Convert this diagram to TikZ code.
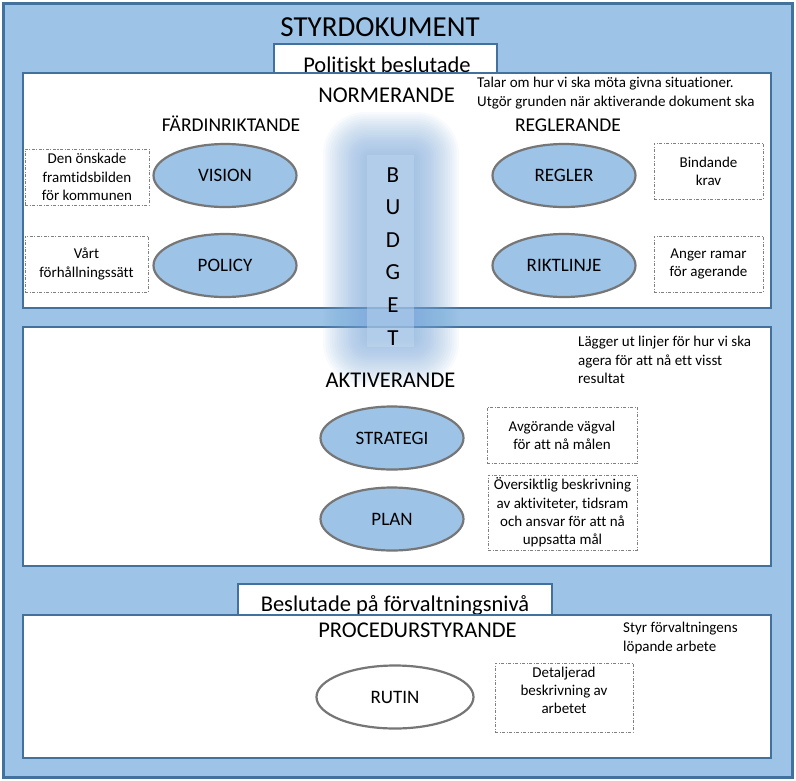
\documentclass[tikz,border=0pt]{standalone}
\usepackage{fontspec}
\setmainfont{Carlito}[Ligatures=NoCommon, Contextuals=NoAlternate]
\usetikzlibrary{shapes.geometric}
\definecolor{frameblue}{RGB}{157,195,230}
\definecolor{lineblue}{RGB}{65,113,156}
\definecolor{ellgray}{RGB}{118,118,118}
\definecolor{notegray}{RGB}{128,128,128}
\definecolor{glowblue}{RGB}{125,172,222}
\begin{document}
\begin{tikzpicture}[x=1pt,y=-1pt,
						every node/.style = {inner sep=0pt},
						section/.style = {draw=lineblue, line width=2pt, fill=white},
						heading/.style = {anchor=base, font=\fontsize{22.5}{27}\selectfont},
						subhead/.style = {anchor=base, font=\fontsize{19.5}{23}\selectfont},
						doc/.style = {ellipse, draw=ellgray, line width=2.2pt, fill=frameblue, minimum width=143pt, minimum height=63pt, font=\fontsize{19}{23}\selectfont},
						note/.style = {draw=notegray, line width=0.7pt, dash pattern=on 3pt off 1.5pt on 1pt off 1.5pt, align=center, font=\fontsize{15}{18.3}\selectfont},
						info/.style = {anchor=north west, align=left, font=\fontsize{15}{18.5}\selectfont}]

					\useasboundingbox (0,0) rectangle (796,780);

					% frame and sections
					\draw[fill=frameblue, draw=lineblue, line width=3pt] (3.5,3) rectangle (792.5,777);
					\node[anchor=base, font=\fontsize{29}{34}\selectfont] (styr) at (380,36.5) {STYRDOKUMENT};
					\draw[section] (274,44) rectangle (497,73);
					\node[heading] (polit) at (387,72) {Politiskt beslutade};
					\draw[section] (238,584) rectangle (552,615);
					\node[heading] (forv) at (395,611) {Beslutade på förvaltningsnivå};
					\draw[section] (23,73) rectangle (771,308);
					\draw[section] (23,327) rectangle (771,566);
					\draw[section] (23,615) rectangle (771,758);

					% budget glow
					\foreach \k [evaluate=\k as \r using 42-2*\k] in {0,...,19}
						\fill[glowblue, fill opacity=0.05, rounded corners=\r pt] ({323+2.3*\k},{112+2.3*\k}) rectangle ({459-2.3*\k},{385-2.3*\k});
					\fill[frameblue!60!white, fill opacity=0.45] (367,155) rectangle (414,347);
					\foreach \l [count=\i] in {B,U,D,G,E,T}
						\node[anchor=base, font=\fontsize{23}{27}\selectfont] (b\i) at ({393},{182+32.6*(\i-1)}) {\l};

					% normerande
					\node[heading] (norm) at (386.5,102) {NORMERANDE};
					\node[info] (talar) at (477,77) {Talar om hur vi ska möta givna situationer.\\Utgör grunden när aktiverande dokument ska};
					\node[subhead] (fard) at (231,131.5) {FÄRDINRIKTANDE};
					\node[subhead] (regl) at (568,131) {REGLERANDE};

					\node[doc] (vision) at (225,175.5) {VISION};
					\node[doc] (policy) at (225,265.5) {POLICY};
					\node[doc] (regler) at (564,175.5) {REGLER};
					\node[doc] (riktl) at (564,265.5) {RIKTLINJE};

					\node[note, minimum width=124pt, minimum height=56pt] (visnote) at (87,177) {Den önskade\\framtidsbilden\\för kommunen};
					\node[note, minimum width=123pt, minimum height=56pt] (polnote) at (86.5,264) {Vårt\\förhållningssätt};
					\node[note, minimum width=109pt, minimum height=56pt] (regnote) at (708.5,171) {Bindande\\krav};
					\node[note, minimum width=109pt, minimum height=56pt] (riknote) at (708.5,264) {Anger ramar\\för agerande};

					% aktiverande
					\node[heading] (akt) at (390.5,387) {AKTIVERANDE};
					\node[info] (lagger) at (578,336) {Lägger ut linjer för hur vi ska\\agera för att nå ett visst\\resultat};
					\node[doc] (strat) at (392,438) {STRATEGI};
					\node[doc] (plan) at (392,519) {PLAN};
					\node[note, minimum width=150pt, minimum height=56pt] (stratnote) at (562,435) {Avgörande vägval\\för att nå målen};
					\node[note, minimum width=149pt, minimum height=75pt] (plannote) at (562.5,512.5) {Översiktlig beskrivning\\av aktiviteter, tidsram\\och ansvar för att nå\\uppsatta mål};

					% procedurstyrande
					\node[heading] (proc) at (417.5,637) {PROCEDURSTYRANDE};
					\node[info] (styrf) at (623,622) {Styr förvaltningens\\löpande arbete};
					\node[doc, fill=white, minimum width=157pt] (rutin) at (395,697) {RUTIN};
					\node[note, minimum width=138pt, minimum height=69pt] (rutnote) at (564,697.5) {};
					\node[align=center, font=\fontsize{15}{18.3}\selectfont] (ruttext) at (564,690.5) {Detaljerad\\beskrivning av\\arbetet};

				\end{tikzpicture}
\end{document}
